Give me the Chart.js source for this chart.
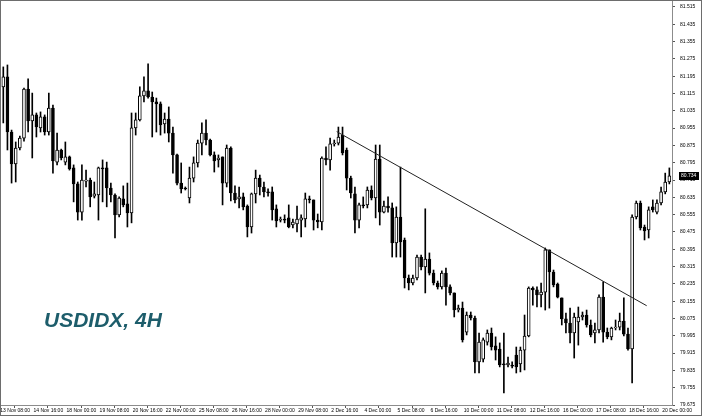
<!DOCTYPE html>
<html>
<head>
<meta charset="utf-8">
<script src="https://cdn.jsdelivr.net/npm/chart.js@4.4.1/dist/chart.umd.min.js"></script>
<style>
  html, body { margin: 0; padding: 0; background: #fff; }
  #wrap { width: 700px; height: 414px; border: 1px solid #6d6d6d; }
  canvas { display: block; }
</style>
</head>
<body>
<div id="wrap"><canvas id="myChart" width="700" height="414"></canvas></div>
<script>
// USDIDX 4H candles, 13 Nov 08:00 .. 20 Dec 08:00
const opens = [
  81.146, 81.192, 80.937, 80.790, 80.863, 80.909, 81.136, 80.988, 81.016, 80.956,
  81.007, 80.937, 81.048, 80.798, 80.854, 80.798, 80.822, 80.771, 80.697, 80.567,
  80.710, 80.715, 80.641, 80.646, 80.771, 80.771, 80.678, 80.646, 80.554, 80.628,
  80.605, 80.563, 80.956, 80.993, 81.104, 81.127, 81.099, 81.076, 81.067, 80.974,
  80.997, 80.932, 80.831, 80.701, 80.678, 80.632, 80.724, 80.794, 80.886, 80.932,
  80.900, 80.831, 80.808, 80.822, 80.701, 80.863, 80.655, 80.628, 80.637, 80.595,
  80.498, 80.651, 80.724, 80.683, 80.660, 80.660, 80.582, 80.530, 80.535, 80.540,
  80.507, 80.512, 80.530, 80.535, 80.628, 80.623, 80.530, 80.521, 80.817, 80.808,
  80.882, 80.886, 80.923, 80.854, 80.724, 80.651, 80.530, 80.600, 80.600, 80.669,
  80.632, 80.812, 80.567, 80.595, 80.586, 80.424, 80.544, 80.438, 80.262, 80.239,
  80.262, 80.359, 80.313, 80.350, 80.285, 80.239, 80.221, 80.285, 80.221, 80.193,
  80.114, 80.123, 80.012, 80.091, 80.077, 79.874, 79.887, 79.966, 80.008, 79.948,
  79.934, 79.865, 79.860, 79.860, 79.906, 79.865, 79.929, 79.994, 80.216, 80.207,
  80.184, 80.197, 80.392, 80.290, 80.234, 80.170, 80.073, 80.054, 80.008, 80.059,
  80.082, 80.091, 80.045, 80.008, 80.022, 80.174, 80.012, 79.990, 80.031, 80.035,
  80.063, 80.003, 79.934, 80.544, 80.609, 80.498, 80.484, 80.591, 80.567, 80.609,
  80.660, 80.706
];
const highs = [
  81.238, 81.247, 80.946, 80.891, 80.918, 81.140, 81.183, 81.117, 81.025, 81.030,
  81.016, 81.117, 81.062, 80.932, 80.858, 80.891, 80.826, 80.785, 80.706, 80.785,
  80.761, 80.724, 80.706, 80.775, 80.808, 80.798, 80.701, 80.651, 80.637, 80.688,
  80.701, 81.025, 81.025, 81.146, 81.192, 81.252, 81.122, 81.094, 81.076, 81.025,
  81.053, 80.960, 80.835, 80.794, 80.683, 80.775, 80.822, 80.900, 80.979, 80.993,
  80.904, 80.845, 80.831, 80.822, 80.877, 80.868, 80.688, 80.683, 80.655, 80.600,
  80.655, 80.761, 80.738, 80.706, 80.674, 80.683, 80.600, 80.544, 80.554, 80.600,
  80.535, 80.595, 80.554, 80.655, 80.641, 80.623, 80.558, 80.822, 80.868, 80.909,
  80.900, 80.960, 80.960, 80.863, 80.733, 80.683, 80.609, 80.637, 80.683, 80.688,
  80.877, 80.877, 80.618, 80.637, 80.609, 80.591, 80.775, 80.447, 80.276, 80.276,
  80.368, 80.368, 80.582, 80.378, 80.299, 80.248, 80.295, 80.308, 80.230, 80.193,
  80.137, 80.151, 80.105, 80.105, 80.086, 80.008, 79.985, 80.022, 80.031, 79.990,
  79.962, 80.008, 79.897, 79.874, 79.943, 79.943, 80.091, 80.221, 80.221, 80.221,
  80.239, 80.401, 80.392, 80.299, 80.239, 80.170, 80.100, 80.123, 80.100, 80.128,
  80.105, 80.114, 80.068, 80.054, 80.184, 80.244, 80.031, 80.035, 80.068, 80.100,
  80.170, 80.031, 80.554, 80.618, 80.618, 80.507, 80.591, 80.623, 80.623, 80.683,
  80.747, 80.771
];
const lows = [
  80.979, 80.854, 80.701, 80.706, 80.854, 80.895, 80.937, 80.817, 80.914, 80.937,
  80.923, 80.923, 80.747, 80.785, 80.808, 80.785, 80.761, 80.614, 80.530, 80.530,
  80.683, 80.591, 80.632, 80.530, 80.614, 80.591, 80.614, 80.447, 80.545, 80.591,
  80.498, 80.517, 80.923, 80.988, 81.076, 81.094, 80.914, 80.937, 80.923, 80.932,
  80.891, 80.747, 80.692, 80.655, 80.669, 80.609, 80.706, 80.775, 80.831, 80.877,
  80.826, 80.752, 80.775, 80.600, 80.683, 80.618, 80.609, 80.586, 80.577, 80.452,
  80.470, 80.609, 80.646, 80.637, 80.641, 80.530, 80.498, 80.521, 80.517, 80.494,
  80.494, 80.475, 80.452, 80.498, 80.609, 80.484, 80.494, 80.484, 80.785, 80.761,
  80.872, 80.877, 80.831, 80.669, 80.632, 80.470, 80.494, 80.586, 80.586, 80.623,
  80.540, 80.507, 80.563, 80.567, 80.359, 80.359, 80.359, 80.216, 80.207, 80.230,
  80.253, 80.299, 80.193, 80.276, 80.230, 80.211, 80.211, 80.137, 80.184, 80.082,
  80.105, 79.966, 79.999, 80.068, 79.823, 79.823, 79.874, 79.952, 79.929, 79.883,
  79.851, 79.731, 79.851, 79.846, 79.823, 79.828, 79.837, 79.990, 80.137, 80.128,
  80.128, 80.114, 80.123, 80.221, 80.170, 80.045, 80.008, 79.962, 79.892, 79.952,
  80.068, 80.035, 79.990, 79.962, 80.008, 79.966, 79.981, 79.976, 80.022, 80.022,
  79.994, 79.929, 79.777, 80.535, 80.484, 80.438, 80.447, 80.567, 80.558, 80.600,
  80.651, 80.697
];
const closes = [
  81.192, 80.937, 80.790, 80.863, 80.909, 81.136, 80.988, 81.016, 80.961, 81.007,
  80.937, 81.048, 80.803, 80.854, 80.817, 80.822, 80.766, 80.697, 80.567, 80.715,
  80.715, 80.637, 80.651, 80.771, 80.766, 80.678, 80.646, 80.554, 80.632, 80.600,
  80.563, 80.956, 80.993, 81.104, 81.127, 81.099, 81.076, 81.067, 80.970, 80.997,
  80.932, 80.831, 80.701, 80.674, 80.674, 80.724, 80.794, 80.886, 80.932, 80.900,
  80.831, 80.803, 80.817, 80.701, 80.863, 80.655, 80.623, 80.637, 80.591, 80.498,
  80.651, 80.724, 80.683, 80.660, 80.655, 80.577, 80.526, 80.535, 80.530, 80.498,
  80.521, 80.535, 80.540, 80.628, 80.623, 80.530, 80.521, 80.817, 80.808, 80.882,
  80.886, 80.914, 80.840, 80.724, 80.655, 80.530, 80.600, 80.595, 80.669, 80.632,
  80.812, 80.567, 80.595, 80.586, 80.424, 80.544, 80.429, 80.262, 80.239, 80.262,
  80.359, 80.313, 80.350, 80.285, 80.239, 80.221, 80.285, 80.221, 80.193, 80.114,
  80.123, 79.976, 80.091, 80.077, 79.874, 79.966, 79.976, 80.008, 79.943, 79.929,
  79.860, 79.860, 79.869, 79.855, 79.851, 79.929, 79.994, 80.216, 80.207, 80.184,
  80.197, 80.392, 80.290, 80.230, 80.174, 80.073, 80.054, 80.008, 80.082, 80.082,
  80.091, 80.045, 79.999, 80.022, 80.174, 80.012, 79.990, 80.031, 80.035, 80.063,
  80.003, 79.934, 80.544, 80.609, 80.494, 80.480, 80.577, 80.577, 80.609, 80.660,
  80.706, 80.734
];

// one time label every 8 bars
const timeLabels = [
  '13 Nov 08:00', '14 Nov 16:00', '18 Nov 00:00', '19 Nov 08:00', '20 Nov 16:00',
  '22 Nov 00:00', '25 Nov 08:00', '26 Nov 16:00', '28 Nov 00:00', '29 Nov 08:00',
  '2 Dec 16:00', '4 Dec 00:00', '5 Dec 08:00', '6 Dec 16:00', '10 Dec 00:00',
  '11 Dec 08:00', '12 Dec 16:00', '16 Dec 00:00', '17 Dec 08:00', '18 Dec 16:00',
  '20 Dec 00:00'
];
const priceTicks = [
  79.675, 79.755, 79.835, 79.915, 79.995, 80.075, 80.155, 80.235, 80.315, 80.395,
  80.475, 80.555, 80.635, 80.715, 80.795, 80.875, 80.955, 81.035, 81.115, 81.195,
  81.275, 81.355, 81.435, 81.515
];

// trend line drawn on the chart (bar index, price)
const trendX = [80.59, 155.52];
const trendY = [80.939, 80.134];

const axisFont = { family: 'Liberation Sans', size: 5 };
const tickShift = -1.2; // time marks sit a little left of their bar

const candleBodies = opens.map((o, i) => ({ x: i, y: [Math.min(o, closes[i]), Math.max(o, closes[i])] }));
const candleWicks = lows.map((l, i) => ({ x: i, y: [l, highs[i]] }));
const bodyColors = opens.map((o, i) => closes[i] >= o ? '#ffffff' : '#000000');

// title text + last price tag
const extras = {
  id: 'extras',
  afterDraw(chart) {
    const c = chart.ctx;
    c.save();
    c.font = 'italic bold 21px "Liberation Sans"';
    c.fillStyle = '#1d5d6b';
    c.textBaseline = 'alphabetic';
    c.fillText('USDIDX, 4H', 43, 326);

    const last = closes[closes.length - 1];
    const y = Math.round(chart.scales.y.getPixelForValue(last));
    c.fillStyle = '#000';
    c.fillRect(chart.chartArea.right + 7, y - 4, 20, 8);
    c.fillStyle = '#fff';
    c.font = '5px "Liberation Sans"';
    c.textBaseline = 'middle';
    c.fillText(last.toFixed(3), chart.chartArea.right + 9, y);
    c.restore();
  }
};

new Chart(document.getElementById('myChart'), {
  type: 'bar',
  data: {
    datasets: [
      {
        type: 'line',
        data: trendX.map((x, i) => ({ x: x, y: trendY[i] })),
        borderColor: '#222',
        borderWidth: 1,
        pointRadius: 0,
        order: 0
      },
      {
        data: candleBodies,
        backgroundColor: bodyColors,
        borderColor: '#000',
        borderWidth: 1,
        borderSkipped: false,
        barThickness: 3,
        grouped: false,
        order: 1
      },
      {
        data: candleWicks,
        backgroundColor: '#000',
        borderWidth: 0,
        barThickness: 1,
        grouped: false,
        order: 2
      }
    ]
  },
  options: {
    responsive: false,
    animation: false,
    layout: { padding: 0, autoPadding: false },
    plugins: { legend: { display: false }, tooltip: { enabled: false } },
    scales: {
      x: {
        type: 'linear',
        min: -0.556,
        max: 161.64,
        offset: false,
        grid: { drawOnChartArea: false, tickLength: 3, color: '#555' },
        border: { color: '#8c8c8c' },
        ticks: {
          align: 'start',
          autoSkip: false,
          maxRotation: 0,
          minRotation: 0,
          padding: 0,
          labelOffset: 2,
          color: '#000',
          font: axisFont,
          callback: v => timeLabels[Math.round((v - tickShift) / 8)]
        },
        afterBuildTicks: s => { s.ticks = timeLabels.map((t, k) => ({ value: k * 8 + tickShift })); },
        afterFit: s => { s.height = 10; s.paddingLeft = 0; s.paddingRight = 0; }
      },
      y: {
        type: 'linear',
        position: 'right',
        min: 79.675,
        max: 81.5427,
        grid: { drawOnChartArea: false, tickLength: 3, color: '#555' },
        border: { color: '#8c8c8c' },
        ticks: {
          padding: 5,
          color: '#000',
          font: axisFont,
          callback: v => v.toFixed(3)
        },
        afterBuildTicks: s => { s.ticks = priceTicks.map(v => ({ value: v })); },
        afterFit: s => { s.width = 29; s.paddingTop = 0; s.paddingBottom = 0; }
      }
    }
  },
  plugins: [extras]
});
</script>
</body>
</html>
